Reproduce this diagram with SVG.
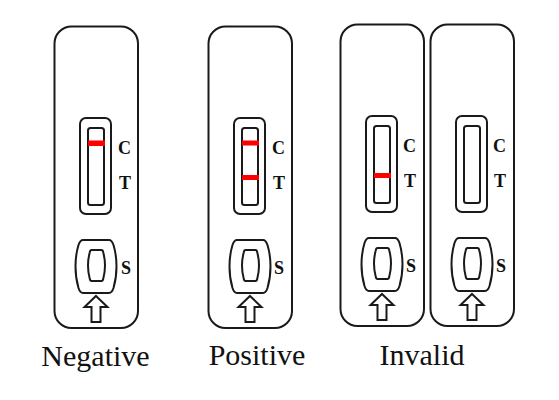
<svg xmlns="http://www.w3.org/2000/svg" width="559" height="400" viewBox="0 0 559 400">
<style>
.o{fill:#fff;stroke:#1a1a1a;stroke-width:2}
.l{fill:#111;font:bold 18px "Liberation Serif",serif}
.n{fill:#111;font:30px "Liberation Serif",serif;text-anchor:middle}
.r{fill:#f00}
</style>
<defs>
<g id="base">
<rect class="o" x="54.500" y="26.500" width="83.500" height="301.500" rx="17"/>
<rect class="o" x="80" y="118" width="31" height="96" rx="6"/>
<rect class="o" x="88" y="128" width="16" height="77" rx="2.500"/>
<path class="o" d="M83 240H109C111.500 240 112.500 242 113.500 245Q116.500 255 116.500 266.500Q116.500 278 113.500 288C112.500 291 111.500 293 109 293H83C80.500 293 79.500 291 78.500 288Q75.500 278 75.500 266.500Q75.500 255 78.500 245C79.500 242 80.500 240 83 240Z"/>
<path class="o" d="M91.500 250H101.500C102.500 250 103 251 103.300 252.500Q105 259 105 265.500Q105 272 103.300 278.500C103 280 102.500 281 101.500 281H91.500C90.500 281 90 280 89.700 278.500Q88 272 88 265.500Q88 259 89.700 252.500C90 251 90.500 250 91.500 250Z"/>
<path class="o" d="M96 296L107.500 307H100.500V322H91.500V307H84.500Z"/>
</g>
</defs>
<rect width="559" height="400" fill="#fff"/>
<g id="connectors"/>
<g id="negative">
<use href="#base"/>
<rect class="r" x="88" y="140.500" width="17" height="5.500"/>
<text class="l" x="118" y="154">C</text><text class="l" x="119" y="189">T</text><text class="l" x="121" y="274">S</text>
</g>
<g id="positive" transform="translate(154 0)">
<use href="#base"/>
<rect class="r" x="88" y="140.500" width="17" height="5"/>
<rect class="r" x="88" y="175" width="17" height="5"/>
<text class="l" x="118" y="154">C</text><text class="l" x="119" y="189">T</text><text class="l" x="120" y="274">S</text>
</g>
<g id="invalid-1" transform="translate(286 -2)">
<use href="#base"/>
<rect class="r" x="88" y="175" width="17" height="5"/>
<text class="l" x="117" y="154">C</text><text class="l" x="118" y="189">T</text><text class="l" x="120" y="274">S</text>
</g>
<g id="invalid-2" transform="translate(376 -2)">
<use href="#base"/>
<text class="l" x="117" y="154">C</text><text class="l" x="118" y="189">T</text><text class="l" x="120" y="274">S</text>
</g>
<text class="n" x="95.500" y="366">Negative</text>
<text class="n" x="257" y="365">Positive</text>
<text class="n" x="422" y="365">Invalid</text>
</svg>
